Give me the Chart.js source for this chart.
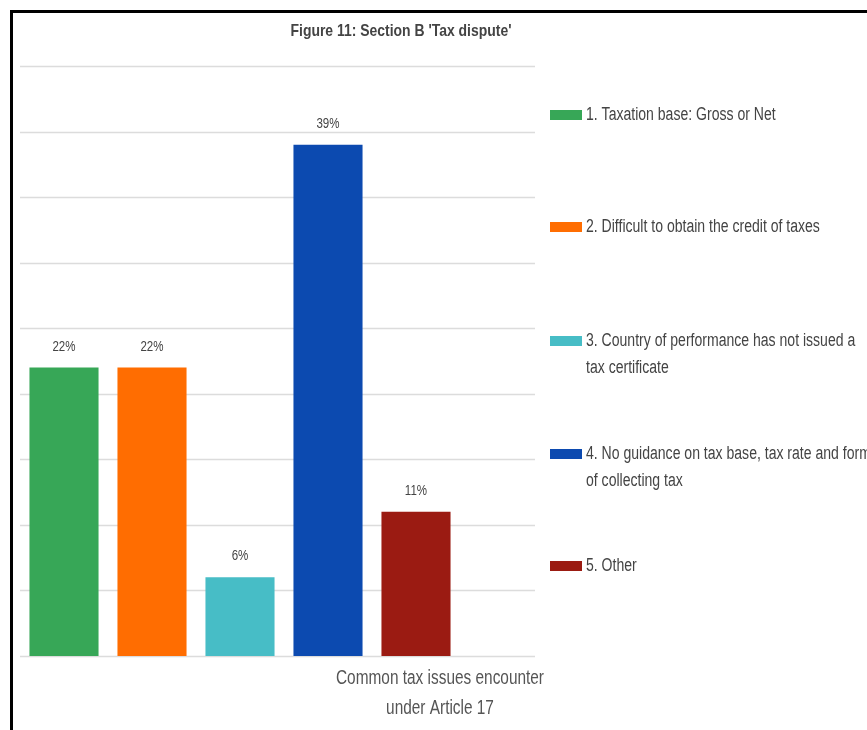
<!DOCTYPE html>
<html>
<head>
<meta charset="utf-8">
<script src="https://cdn.jsdelivr.net/npm/chart.js@4/dist/chart.umd.min.js"></script>
<style>
  html, body { margin: 0; padding: 0; background: #fff; }
  #wrap { position: relative; width: 867px; height: 730px; }
</style>
</head>
<body>
<div id="wrap"><canvas id="c" width="867" height="730"></canvas></div>
<script>
// Survey results: common tax issues encountered under Article 17
const categories = ["Common tax issues encounter under Article 17"];
const issueLabels = [
  ["1. Taxation base: Gross or Net"],
  ["2. Difficult to obtain the credit of taxes"],
  ["3. Country of performance has not issued a", "tax certificate"],
  ["4. No guidance on tax base, tax rate and form", "of collecting tax"],
  ["5. Other"]
];
const issueValues = [22, 22, 6, 39, 11];
const issueColors = ["#37a757", "#ff6d01", "#47bdc6", "#0c4ab0", "#9b1b12"];
const yTicks = [0, 5, 10, 15, 20, 25, 30, 35, 40, 45];

const FONT = '"Liberation Sans", Arial, sans-serif';

// draw text squeezed horizontally around its anchor point (condensed look)
function narrowText(ctx, text, x, y, align, squeeze) {
  ctx.save();
  ctx.translate(x, y);
  ctx.scale(squeeze, 1);
  ctx.textAlign = align;
  ctx.fillText(text, 0, 0);
  ctx.restore();
}

const datasets = issueLabels.map((lbl, i) => ({
  label: lbl.join(" "),
  legendLines: lbl,
  data: [issueValues[i]],
  backgroundColor: issueColors[i],
  borderWidth: 0,
  categoryPercentage: 1.0,
  barPercentage: 0.785
}));

// Frame, gridlines, title, value labels, legend and axis caption
const decor = {
  id: "decor",
  beforeDatasetsDraw(chart) {
    const { ctx, chartArea, scales } = chart;
    ctx.save();
    ctx.strokeStyle = "#dcdcdc";
    ctx.lineWidth = 1.5;
    yTicks.forEach(v => {
      const y = Math.round(scales.y.getPixelForValue(v)) + 0.5;
      ctx.beginPath();
      ctx.moveTo(chartArea.left, y);
      ctx.lineTo(chartArea.left + 515, y);
      ctx.stroke();
    });
    ctx.restore();
  },
  afterDatasetsDraw(chart) {
    const { ctx } = chart;
    ctx.save();
    // frame
    ctx.fillStyle = "#000";
    ctx.fillRect(10, 10, 857, 3);
    ctx.fillRect(10, 10, 3, 720);

    ctx.textBaseline = "middle";

    // title
    ctx.fillStyle = "#444";
    ctx.font = "bold 17px " + FONT;
    narrowText(ctx, "Figure 11: Section B 'Tax dispute'", 401, 31, "center", 0.82);

    // value labels above bars
    ctx.font = "15px " + FONT;
    chart.data.datasets.forEach((ds, i) => {
      const meta = chart.getDatasetMeta(i);
      meta.data.forEach((bar, j) => {
        narrowText(ctx, ds.data[j] + "%", bar.x, bar.y - 21, "center", 0.77);
      });
    });

    // legend
    ctx.font = "18px " + FONT;
    const legendTop = [115, 227, 341, 454, 566];
    chart.data.datasets.forEach((ds, i) => {
      const y0 = legendTop[i];
      ctx.fillStyle = ds.backgroundColor;
      ctx.fillRect(550, y0 - 5, 32, 10);
      ctx.fillStyle = "#444";
      ds.legendLines.forEach((line, k) => {
        narrowText(ctx, line, 586, y0 + k * 27, "left", 0.78);
      });
    });

    // category caption
    ctx.fillStyle = "#555";
    ctx.font = "20px " + FONT;
    narrowText(ctx, "Common tax issues encounter", 440, 678, "center", 0.77);
    narrowText(ctx, "under Article 17", 440, 708, "center", 0.77);
    ctx.restore();
  }
};

new Chart(document.getElementById("c"), {
  type: "bar",
  data: { labels: categories, datasets },
  options: {
    responsive: false,
    animation: false,
    layout: { padding: { left: 20, right: 407, top: 66, bottom: 74 } },
    scales: {
      x: { display: false },
      y: { display: false, min: 0, max: 45, ticks: { stepSize: 5 } }
    },
    plugins: {
      legend: { display: false },
      title: { display: false },
      tooltip: { enabled: false }
    }
  },
  plugins: [decor]
});
</script>
</body>
</html>
